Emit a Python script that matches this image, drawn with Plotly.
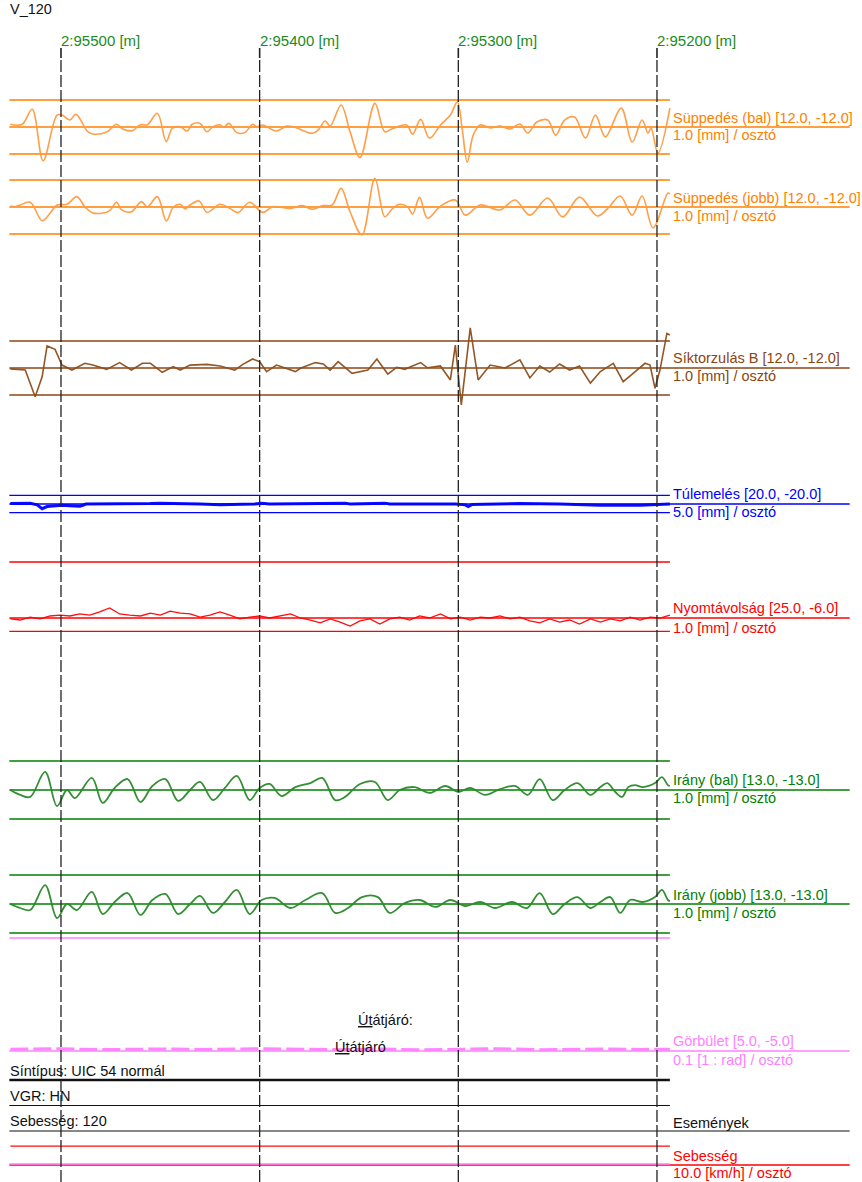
import plotly.graph_objects as go

# ------------------------------------------------------------------ data
tick_m = [295500, 295400, 295300, 295200]
tick_labels = ["2:95500 [m]", "2:95400 [m]", "2:95300 [m]", "2:95200 [m]"]

sup_bal_m = [295525.5, 295519.5, 295514.5, 295509.0, 295502.0, 295499.5, 295495.5, 295492.5, 295486.5, 295484.0,
             295477.0, 295472.0, 295469.0, 295464.0, 295460.0, 295456.5, 295451.5, 295447.0, 295444.0, 295440.0,
             295436.5, 295434.0, 295430.0, 295426.5, 295423.5, 295420.0, 295418.0, 295415.5, 295411.5, 295407.5,
             295403.5, 295401.5, 295398.5, 295391.5, 295386.5, 295383.0, 295373.5, 295370.5, 295367.0, 295364.5,
             295359.0, 295354.5, 295349.5, 295342.0, 295337.0, 295333.5, 295326.0, 295323.0, 295319.0, 295314.5,
             295309.0, 295304.0, 295300.5, 295298.0, 295295.5, 295292.5, 295289.0, 295284.0, 295279.0, 295274.0,
             295269.0, 295265.0, 295260.5, 295255.0, 295251.0, 295246.5, 295241.5, 295236.0, 295231.0, 295226.0,
             295218.0, 295212.5, 295207.5, 295204.5, 295203.0, 295199.5, 295193.5]
sup_bal_mm = [1.2, 1.2, 7.9, -15.0, 5.3, 5.3, 3.1, 5.6, -2.1, -3.1,
              -2.2, 1.2, -0.9, -1.6, 1.0, 1.0, 6.1, -6.5, -0.6, 0.1,
              -1.8, 1.2, 1.6, -2.1, 0.1, 1.0, -0.1, 1.6, -2.5, -2.5,
              1.2, 0.1, 0.9, -1.8, 0.4, 0.1, -2.8, -1.3, 2.7, 0.4,
              9.8, -2.1, -13.6, 10.5, -2.1, -0.9, 0.9, -3.2, 3.4, -5.0,
              0.9, 5.3, 11.1, -1.3, -15.6, -3.6, 0.9, -0.4, 0.4, -0.9,
              1.3, -2.7, 2.2, 3.1, -3.6, 3.1, 4.4, -4.9, 5.3, -4.4,
              8.4, -6.7, 3.1, -2.7, -0.4, -11.6, 8.4]

sup_jobb_m = [295525.5, 295523.0, 295520.5, 295515.5, 295509.5, 295505.5, 295502.0, 295497.0, 295492.0, 295488.0,
              295484.5, 295479.5, 295475.5, 295472.0, 295469.5, 295464.5, 295459.5, 295456.5, 295451.5, 295447.0,
              295443.5, 295440.0, 295437.5, 295435.0, 295430.5, 295426.5, 295420.0, 295415.0, 295411.0, 295405.0,
              295398.5, 295393.5, 295384.5, 295378.5, 295373.5, 295368.0, 295363.5, 295359.0, 295354.5, 295348.5,
              295342.0, 295337.0, 295333.0, 295329.5, 295325.5, 295323.0, 295319.5, 295315.5, 295309.0, 295301.5,
              295296.5, 295289.0, 295279.0, 295271.5, 295264.0, 295255.0, 295247.5, 295239.0, 295230.0, 295224.5,
              295218.5, 295212.5, 295207.5, 295202.0, 295194.5, 295193.5]
sup_jobb_mm = [0.4, 0.1, 0.9, 2.1, -6.1, -2.8, 0.9, 1.2, 4.6, 0.1,
               -2.4, -2.8, -1.6, 2.1, -1.3, -2.1, 2.4, 0.1, 4.6, -6.2,
               -0.1, 1.2, -0.9, 0.9, 2.7, -2.4, 1.2, -0.6, -2.5, 2.1,
               -2.4, 0.1, -0.6, 0.6, -1.0, 0.6, 0.9, 8.3, -2.1, -12.4,
               12.8, -4.3, -0.6, 1.2, 0.1, -3.1, 4.3, -5.0, 0.4, 3.1,
               -3.6, 0.9, -1.3, 3.1, -3.6, 4.0, -4.4, 4.4, -4.0, -0.4,
               4.9, -3.6, 4.9, -9.3, 6.2, 5.8]

sik_m = [295525.5, 295518.0, 295513.0, 295509.5, 295507.0, 295503.0, 295499.5, 295494.5, 295488.0, 295484.0,
         295477.0, 295470.5, 295464.5, 295459.0, 295455.0, 295449.0, 295443.5, 295440.0, 295435.0, 295426.5,
         295420.0, 295412.5, 295408.5, 295403.5, 295400.0, 295396.5, 295391.5, 295382.0, 295379.5, 295372.0,
         295368.0, 295364.5, 295360.5, 295353.5, 295345.5, 295341.0, 295335.5, 295331.0, 295327.0, 295319.0,
         295315.5, 295309.0, 295304.0, 295301.5, 295298.5, 295294.0, 295290.0, 295284.0, 295276.5, 295269.0,
         295264.0, 295259.0, 295254.0, 295249.0, 295244.0, 295239.0, 295233.5, 295228.5, 295222.0, 295217.0,
         295212.0, 295206.0, 295203.5, 295201.0, 295198.5, 295195.0, 295193.5]
sik_mm = [-0.4, -0.9, -12.8, -3.9, 9.8, 8.3, 1.3, -0.9, 2.1, 1.3,
          -0.6, 2.4, -0.9, 2.1, 2.1, -1.9, 0.6, -0.9, 1.3, 1.6,
          0.9, -0.9, 1.6, 4.0, 2.8, -1.6, 1.3, -1.6, -0.1, 2.4,
          1.8, -0.9, 2.8, -2.4, -0.9, 4.0, -2.7, 0.3, -0.6, 2.4,
          0.1, 0.9, -5.3, 10.2, -16.4, 17.8, -5.3, 1.3, 0.0, 3.6,
          -4.4, 0.9, -1.8, 1.8, -0.9, 0.9, -6.7, -1.6, 2.1, -6.1,
          -2.4, 2.1, 1.3, -9.0, -0.9, 15.4, 14.7]

tul_m = [295525.5, 295515.5, 295512.0, 295509.5, 295507.0, 295503.0, 295499.5, 295495.5, 295490.5, 295489.0,
         295487.5, 295455.0, 295450.0, 295430.0, 295420.0, 295402.5, 295399.0, 295395.0, 295359.5, 295357.0,
         295354.5, 295339.5, 295337.0, 295334.5, 295301.5, 295296.5, 295295.0, 295293.0, 295279.0, 295269.0,
         295249.0, 295239.0, 295228.5, 295208.5, 295198.5, 295193.5]
tul_mm = [1, 1.5, -2, -11, -6, -4, -3, -4, -5, -3,
          0, 1, 2, 0, -2, 0, 2, 0, 1, 2,
          0, 1, 2, 0, 0, -2, -6, -1, 0, 1,
          0, -2, -3, -3, -2, 0]

nyom_m = [295525.5, 295520.5, 295515.5, 295510.5, 295505.5, 295500.5, 295495.5, 295490.5, 295485.5, 295480.5,
          295475.5, 295470.5, 295465.5, 295460.0, 295455.0, 295450.0, 295445.0, 295440.0, 295435.0, 295430.0,
          295425.0, 295420.0, 295415.0, 295410.0, 295405.0, 295400.0, 295395.0, 295390.0, 295384.5, 295379.5,
          295374.5, 295369.5, 295364.5, 295359.5, 295354.5, 295349.5, 295344.5, 295339.5, 295334.5, 295329.5,
          295324.5, 295319.5, 295314.5, 295309.0, 295304.0, 295299.0, 295294.0, 295289.0, 295284.0, 295279.0,
          295274.0, 295269.0, 295264.0, 295259.0, 295254.0, 295249.0, 295244.0, 295239.0, 295233.5, 295228.5,
          295223.5, 295218.5, 295213.5, 295208.5, 295203.5, 295198.5, 295193.5]
nyom_mm = [-0.4, -0.9, 0.4, -0.4, 0.9, 1.3, 0.9, 1.8, 1.3, 2.7,
           4.5, 1.8, 1.3, 0.9, 2.2, 1.3, 3.1, 2.2, 1.8, 0.4,
           1.3, 2.7, 1.3, -0.4, 0.4, 0.9, 0.0, 0.9, 1.8, 0.0,
           -0.9, -2.2, -0.4, -1.8, -3.6, -1.3, -0.4, -2.7, -0.4, 0.4,
           -0.9, 0.9, 0.0, 1.8, -0.4, 0.4, -0.9, 0.4, 0.0, 0.9,
           -0.4, 0.4, -1.3, -2.2, -0.4, -1.8, -0.9, -2.7, -0.4, -1.8,
           -0.4, -1.3, 0.4, -0.9, 0.4, 0.0, 1.3]

ir_bal_m = [295525.5, 295520.5, 295515.5, 295508.0, 295502.0, 295497.0, 295493.0, 295484.5, 295479.0, 295473.0,
            295466.5, 295460.0, 295454.0, 295447.5, 295441.0, 295435.0, 295430.0, 295423.5, 295417.5, 295411.5,
            295405.0, 295400.0, 295395.0, 295389.0, 295382.0, 295374.5, 295368.5, 295362.0, 295357.0, 295349.5,
            295342.0, 295335.5, 295329.5, 295322.0, 295314.5, 295306.5, 295300.0, 295294.0, 295286.5, 295279.0,
            295271.5, 295265.0, 295259.0, 295252.5, 295246.5, 295240.0, 295233.5, 295228.5, 295225.0, 295221.0,
            295217.5, 295214.5, 295211.0, 295207.0, 295201.0, 295197.5, 295194.5, 295193.5]
ir_bal_mm = [0.0, -2.2, -3.1, 8.1, -7.2, 0.0, -3.6, 5.4, -5.8, 0.9,
             4.9, -5.4, 1.8, 4.9, -4.9, 0.0, 3.6, -4.5, 0.9, 6.3,
             -4.5, 0.9, 2.7, -2.7, 1.3, 3.1, 5.4, -4.5, -3.1, 2.7,
             3.6, -4.5, 0.0, 1.3, -1.3, 1.8, -0.9, 0.9, -2.2, 0.4,
             1.8, -2.2, 4.9, -4.5, 0.0, 3.1, -2.2, 1.3, 3.1, -0.9,
             -3.1, 1.3, 2.2, 1.3, 3.1, 5.8, 2.2, 1.8]

ir_jobb_m = [295525.5, 295520.5, 295515.5, 295508.0, 295502.0, 295497.0, 295492.0, 295484.5, 295479.0, 295473.0,
             295466.5, 295460.0, 295454.0, 295447.5, 295441.0, 295435.0, 295430.0, 295423.5, 295417.5, 295411.5,
             295405.0, 295399.0, 295392.5, 295384.5, 295377.0, 295368.5, 295362.0, 295355.5, 295348.5, 295340.5,
             295334.5, 295327.0, 295319.5, 295311.5, 295304.0, 295296.5, 295289.0, 295281.5, 295273.0, 295265.5,
             295259.0, 295252.5, 295246.5, 295240.0, 295233.5, 295228.5, 295223.5, 295218.5, 295213.5, 295207.0,
             295201.0, 295197.5, 295194.5, 295193.5]
ir_jobb_mm = [0.0, -1.8, -2.7, 8.5, -6.3, 0.0, -2.7, 5.4, -4.5, 0.9,
              4.9, -4.9, 1.8, 4.5, -4.5, 0.0, 3.6, -4.0, 0.9, 6.3,
              -4.5, 1.8, 2.7, -1.8, 1.8, 4.9, -4.0, -1.8, 3.1, 3.1,
              -4.0, 0.4, 1.8, -1.3, 1.8, -0.9, 0.9, -1.8, 0.9, -1.8,
              4.9, -4.5, 0.0, 3.1, -1.8, 0.9, 3.1, -4.0, 1.8, 0.9,
              3.1, 6.3, 1.8, 1.3]

gorb_m = [295525.5, 295500.5, 295480.5, 295450.0, 295430.0, 295400.0, 295379.5, 295359.5,
          295339.5, 295319.5, 295299.0, 295279.0, 295259.0, 295228.5, 295208.5, 295193.5]
gorb_val = [0.08, 0.10, 0.06, 0.09, 0.07, 0.10, 0.08, 0.06,
            0.09, 0.05, 0.08, 0.10, 0.06, 0.09, 0.07, 0.08]

seb_m = [295525.5, 295360.0, 295193.5]
seb_kmh = [84, 84, 84]

# ------------------------------------------------------------------ layout helpers
W, H = 862, 1182
X_RANGE = [295530.7, 295096.8]
X_START, X_END, X_FAR = 295526.0, 295193.5, 295103.0
FONT = "Liberation Sans, Arial, sans-serif"
FS = 14.5


def py(px):
    return 1 - px / H


def pxx(px):
    return px / W


ORANGE, ORANGE_SIG = "#FF8000", "#FF9A40"
BROWN, BROWN_SIG = "#8B4513", "#8E4E1C"
BLUE = "#0000FF"
RED = "#FF0000"
GREEN, GREEN_SIG = "#008000", "#2A8A2A"
PINK = "#FF80FF"

channels = [
    dict(x=sup_bal_m, y=sup_bal_mm, c=127, s=2.25, lims=(12, -12), lc=ORANGE, sc=ORANGE_SIG, sw=1.6,
         shape="spline", l1="Süppedés (bal) [12.0, -12.0]", l2="1.0 [mm] / osztó", ly=(118, 135)),
    dict(x=sup_jobb_m, y=sup_jobb_mm, c=207, s=2.25, lims=(12, -12), lc=ORANGE, sc=ORANGE_SIG, sw=1.6,
         shape="spline", l1="Süppedés (jobb) [12.0, -12.0]", l2="1.0 [mm] / osztó", ly=(198, 216)),
    dict(x=sik_m, y=sik_mm, c=368, s=2.25, lims=(12, -12), lc=BROWN, sc=BROWN_SIG, sw=1.6,
         shape="linear", l1="Síktorzulás B [12.0, -12.0]", l2="1.0 [mm] / osztó", ly=(358, 376)),
    dict(x=tul_m, y=tul_mm, c=504, s=0.43, lims=(20, -20), lc=BLUE, sc=BLUE, sw=3,
         shape="linear", l1="Túlemelés [20.0, -20.0]", l2="5.0 [mm] / osztó", ly=(494, 512)),
    dict(x=nyom_m, y=nyom_mm, c=618, s=2.24, lims=(25, -6), lc=RED, sc=RED, sw=1.3,
         shape="linear", l1="Nyomtávolság [25.0, -6.0]", l2="1.0 [mm] / osztó", ly=(608, 628)),
    dict(x=ir_bal_m, y=ir_bal_mm, c=790, s=2.23, lims=(13, -13), lc=GREEN, sc=GREEN_SIG, sw=1.8,
         shape="spline", l1="Irány (bal) [13.0, -13.0]", l2="1.0 [mm] / osztó", ly=(780, 798)),
    dict(x=ir_jobb_m, y=ir_jobb_mm, c=904, s=2.23, lims=(13, -13), lc=GREEN, sc=GREEN_SIG, sw=1.8,
         shape="spline", l1="Irány (jobb) [13.0, -13.0]", l2="1.0 [mm] / osztó", ly=(895, 913)),
    dict(x=seb_m, y=seb_kmh, c=1165, s=0.225, lims=(), lc=RED, sc=RED, sw=1.3,
         shape="linear", l1="Sebesség", l2="10.0 [km/h] / osztó", ly=(1156, 1173)),
    dict(x=gorb_m, y=gorb_val, c=1051, s=22.6, lims=(5, -5), lc=PINK, sc=PINK, sw=3, dash="18px,5px",
         shape="linear", l1="Görbület [5.0, -5.0]", l2="0.1 [1 : rad] / osztó", ly=(1041, 1060)),
]

fig = go.Figure()
# base subplot (holds the overlaying channel axes)
fig.add_trace(go.Scatter(x=[X_START], y=[0.5], mode="markers", marker=dict(opacity=0),
                         hoverinfo="skip"))

annotations = []
layout_axes = {}

for i, ch in enumerate(channels):
    k = i + 2
    yref = f"y{k}"
    c, s = ch["c"], ch["s"]
    layout_axes[f"yaxis{k}"] = dict(range=[(c - H) / s, c / s], overlaying="y", visible=False,
                                     fixedrange=True)
    for v in ch["lims"]:
        fig.add_trace(go.Scatter(x=[X_START, X_END], y=[v, v], mode="lines", yaxis=yref,
                                 line=dict(color=ch["lc"], width=1.3), hoverinfo="skip"))
    fig.add_trace(go.Scatter(x=[X_START, X_FAR], y=[0, 0], mode="lines", yaxis=yref,
                             line=dict(color=ch["lc"], width=1.3), hoverinfo="skip"))
    fig.add_trace(go.Scatter(x=ch["x"], y=ch["y"], mode="lines", yaxis=yref,
                             line=dict(color=ch["sc"], width=ch["sw"], shape=ch["shape"],
                                       dash=ch.get("dash", "solid")),
                             opacity=0.95))
    for txt, yy in zip((ch["l1"], ch["l2"]), ch["ly"]):
        annotations.append(dict(text=txt, x=pxx(671), y=py(yy), xref="paper", yref="paper",
                                xanchor="left", yanchor="middle", showarrow=False,
                                font=dict(family=FONT, size=FS, color=ch["lc"])))

# event / info bands (black lines)
shapes = []
for yy, x1, w in [(1080, X_END, 2.6), (1105.5, X_END, 1.2), (1131, X_FAR, 1.2)]:
    shapes.append(dict(type="line", xref="x", yref="paper", x0=X_START, x1=x1, y0=py(yy), y1=py(yy),
                       line=dict(color="#111111", width=w), layer="above"))

# kilometre grid
for t, lab in zip(tick_m, tick_labels):
    shapes.append(dict(type="line", xref="x", yref="paper", x0=t, x1=t, y0=0, y1=py(58),
                       line=dict(color="#222222", width=1.3, dash="12px,3px"), layer="above"))
    shapes.append(dict(type="line", xref="x", yref="paper", x0=t, x1=t, y0=py(58), y1=py(48),
                       line=dict(color="#222222", width=1.6), layer="above"))
    annotations.append(dict(text=lab, x=t, y=py(40), xref="x", yref="paper", xanchor="left",
                            yanchor="middle", showarrow=False, xshift=-2,
                            font=dict(family=FONT, size=15, color="#1A8C1A")))

black_texts = [
    ("Síntípus: UIC 54 normál", 8, 1071),
    ("VGR: HN", 8, 1096),
    ("Sebesség: 120", 8, 1121),
    ("Események", 671, 1123),
    ("<u>Út</u>átjáró:", 356, 1020),
    ("<u>Út</u>átjáró", 333, 1047),
    ("V_120", 8, 9),
]
for txt, xx, yy in black_texts:
    annotations.append(dict(text=txt, x=pxx(xx), y=py(yy), xref="paper", yref="paper",
                            xanchor="left", yanchor="middle", showarrow=False,
                            font=dict(family=FONT, size=FS, color="#111111")))

fig.update_layout(
    width=W, height=H, margin=dict(l=0, r=0, t=0, b=0),
    paper_bgcolor="white", plot_bgcolor="rgba(0,0,0,0)", showlegend=False,
    xaxis=dict(range=X_RANGE, visible=False, fixedrange=True),
    yaxis=dict(range=[0, 1], visible=False, fixedrange=True),
    shapes=shapes, annotations=annotations,
    **layout_axes,
)

fig.write_html("out.html", config={"displayModeBar": False},
               post_script="document.body.style.margin='0';")
